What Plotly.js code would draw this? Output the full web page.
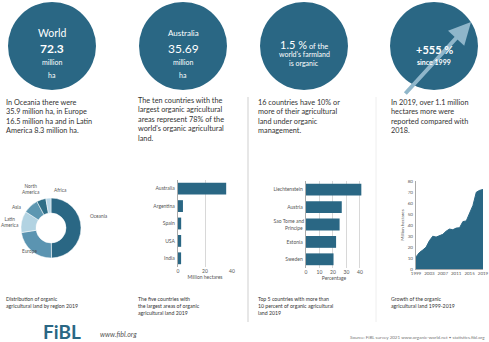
<!DOCTYPE html>
<html><head><meta charset="utf-8">
<script src="https://cdn.plot.ly/plotly-3.0.1.min.js"></script>
<style>html,body{margin:0;padding:0;background:#fff}#c{width:489px;height:342px}</style>
</head><body><div id="c"></div>
<script>
// ---- data ----
const regions = ["Oceania","Europe","Latin America","Asia","Northern America","Africa"];
const regionHa = [35.9, 16.5, 8.3, 5.9, 3.6, 2.0];
const topCountries = ["Australia","Argentina","Spain","USA","India"];
const topCountriesHa = [35.69, 3.67, 2.35, 2.33, 2.30];
const shareCountries = ["Liechtenstein","Austria","Sao Tome and<br>Principe","Estonia","Sweden"];
const sharePct = [41.0, 26.5, 24.9, 22.3, 20.4];
const years = [1999,2000,2001,2002,2003,2004,2005,2006,2007,2008,2009,2010,2011,2012,2013,2014,2015,2016,2017,2018,2019];
const growthHa = [11.0,14.9,17.2,19.8,25.7,29.8,29.0,30.1,31.5,34.4,36.3,35.7,37.2,37.5,43.1,43.7,50.9,57.8,69.8,71.5,72.3];
const areaTicks = [1999,2003,2007,2011,2015,2019];

// ---- layout helpers ----
const W = 489, H = 342;
const px = x => x / W, py = y => 1 - y / H;
const BLUE = "#2a6784";
const FONT = "Lato, 'Open Sans', sans-serif";

const shapes = [];
const annotations = [];
function circle(cx, cy, r) {
  shapes.push({type:"circle", xref:"paper", yref:"paper", x0:px(cx-r), x1:px(cx+r), y0:py(cy+r), y1:py(cy-r),
    fillcolor:BLUE, line:{width:0}, layer:"below"});
}
function txt(x, y, text, size, opts) {
  annotations.push(Object.assign({xref:"paper", yref:"paper", x:px(x), y:py(y), text:text, showarrow:false,
    font:{family:FONT, size:size, color:"#333"}, xanchor:"center", yanchor:"middle"}, opts||{}));
}
const white = s => ({font:{family:FONT, size:s, color:"#fff"}});

circle(52, 46, 44); circle(183, 46, 44); circle(304, 46, 44); circle(434, 46, 44);
// separators
shapes.push({type:"line", xref:"paper", yref:"paper", x0:px(248), x1:px(248), y0:py(97), y1:py(322), line:{color:"#cfcfcf", width:1}});
shapes.push({type:"line", xref:"paper", yref:"paper", x0:px(376), x1:px(376), y0:py(97), y1:py(322), line:{color:"#eeeeee", width:1}});

// arrow in circle 4
annotations.push({xref:"paper", yref:"paper", x:px(471), y:py(22), ax:px(404), ay:py(95), axref:"paper", ayref:"paper",
  showarrow:true, arrowcolor:"#8fb6ca", arrowwidth:4, arrowhead:2, arrowsize:1.1, text:""});

// circle texts
txt(52, 33, "World", 10.5, white(10.5));
txt(52, 48, "<b>72.3</b>", 12, white(12));
txt(52, 62, "million", 7, white(7));
txt(52, 75, "ha", 7, white(7));
txt(183, 33, "Australia", 8, white(8));
txt(183, 48, "35.69", 12, white(12));
txt(183, 62, "million", 7, white(7));
txt(183, 75, "ha", 7, white(7));
txt(304, 45, "<span style='font-size:11px'>1.5 %</span> of the", 7.5, white(7.5));
txt(304, 54, "world's farmland", 7, white(7));
txt(304, 63, "is organic", 7, white(7));
txt(434, 50, "<b>+555 %</b>", 11, white(11));
txt(434, 62, "<b>since 1999</b>", 7, white(7));

// captions
const cap = {xanchor:"left", yanchor:"top", align:"left"};
txt(4, 96, "In Oceania there were<br>35.9 million ha, in Europe<br>16.5 million ha and in Latin<br>America 8.3 million ha.", 7.3, cap);
txt(136, 94, "The ten countries with the<br>largest organic agricultural<br>areas represent 78% of the<br>world's organic agricultural<br>land.", 7.3, cap);
txt(256, 96, "16 countries have 10% or<br>more of their agricultural<br>land under organic<br>management.", 7.3, cap);
txt(389, 96, "In 2019, over 1.1 million<br>hectares more were<br>reported compared with<br>2018.", 7.3, cap);

txt(4, 294, "Distribution of organic<br>agricultural land by region 2019", 5.2, cap);
txt(136, 294, "The five countries with<br>the largest areas of organic<br>agricultural land 2019", 5.2, cap);
txt(256, 294, "Top 5 countries with more than<br>10 percent of organic agricultural<br>land 2019", 5.2, cap);
txt(389, 294, "Growth of the organic<br>agricultural land 1999-2019", 5.2, cap);

// donut labels
const small = {font:{family:FONT, size:4.8, color:"#555"}};
txt(31, 189, "North<br>America", 4.8, small);
txt(60, 190, "Africa", 4.8, small);
txt(16, 207, "Asia", 4.8, small);
txt(10, 222, "Latin<br>America", 4.8, small);
txt(99, 216, "Oceania", 4.8, small);
txt(29, 251, "Europe", 4.8, small);

// footer
txt(41, 331, "<b>FiBL</b>", 19, {xanchor:"left", font:{family:FONT, size:19, color:BLUE}});
txt(98, 334, "<i>www.fibl.org</i>", 7, {xanchor:"left", font:{family:FONT, size:7, color:"#555"}});
txt(487, 337, "Source: FiBL survey 2021 www.organic-world.net • statistics.fibl.org", 4.5, {xanchor:"right", font:{family:FONT, size:4.5, color:"#777"}});

const tickF = {family:FONT, size:5, color:"#555"};
const data = [
  {type:"pie", labels:regions, values:regionHa, hole:0.5, sort:false, direction:"clockwise", rotation:0,
   textinfo:"none", hoverinfo:"none", showlegend:false,
   marker:{colors:["#2a6784","#5b94b1","#b2d3e2","#5d97b1","#2e6e87","#b8d7e8"], line:{color:"#fff", width:0.5}},
   domain:{x:[px(21), px(81)], y:[py(258), py(198)]}},
  {type:"bar", orientation:"h", x:topCountriesHa, y:topCountries, xaxis:"x", yaxis:"y", marker:{color:BLUE}, width:0.68, showlegend:false},
  {type:"bar", orientation:"h", x:sharePct, y:shareCountries, xaxis:"x2", yaxis:"y2", marker:{color:BLUE}, width:0.68, showlegend:false},
  {type:"scatter", mode:"lines", x:years, y:growthHa, xaxis:"x3", yaxis:"y3", fill:"tozeroy", fillcolor:BLUE, line:{color:BLUE, width:1}, showlegend:false}
];

const baseX = {ticks:"", tickfont:tickF, showgrid:true, gridcolor:"#d8d8d8", gridwidth:1, zeroline:false, fixedrange:true};
const baseY = {ticks:"", tickfont:tickF, showgrid:false, zeroline:false, showline:true, linecolor:"#aaa", linewidth:1, fixedrange:true};

const layout = {
  width:W, height:H, margin:{l:0,r:0,t:0,b:0}, paper_bgcolor:"#fff", plot_bgcolor:"#fff",
  font:{family:FONT}, showlegend:false,
  xaxis:Object.assign({}, baseX, {domain:[px(178), px(232)], anchor:"y", range:[0,40], tickvals:[0,20,40],
    title:{text:"Million hectares", font:tickF, standoff:2}}),
  yaxis:Object.assign({}, baseY, {domain:[py(267), py(180)], anchor:"x", autorange:"reversed", ticksuffix:" "}),
  xaxis2:Object.assign({}, baseX, {domain:[px(306), px(362)], anchor:"y2", range:[0,41.5], tickvals:[0,10,20,30,40],
    ticksuffix:"%", title:{text:"Percentage", font:tickF, standoff:2}}),
  yaxis2:Object.assign({}, baseY, {domain:[py(268), py(181)], anchor:"x2", autorange:"reversed", ticksuffix:" "}),
  xaxis3:Object.assign({}, baseX, {domain:[px(416), px(483)], anchor:"y3", range:[1999,2019], tickvals:areaTicks, showgrid:false,
    tickfont:{family:FONT, size:4.5, color:"#555"}, showline:true, linecolor:"#aaa"}),
  yaxis3:Object.assign({}, baseY, {domain:[py(269), py(181)], anchor:"x3", range:[0,80], dtick:10,
    tickfont:{family:FONT, size:4.5, color:"#555"}, ticksuffix:" ",
    title:{text:"Million hectares", font:{family:FONT, size:4.5, color:"#555"}, standoff:3}}),
  shapes:shapes, annotations:annotations
};

Plotly.newPlot("c", data, layout, {displayModeBar:false, staticPlot:true});
</script></body></html>
